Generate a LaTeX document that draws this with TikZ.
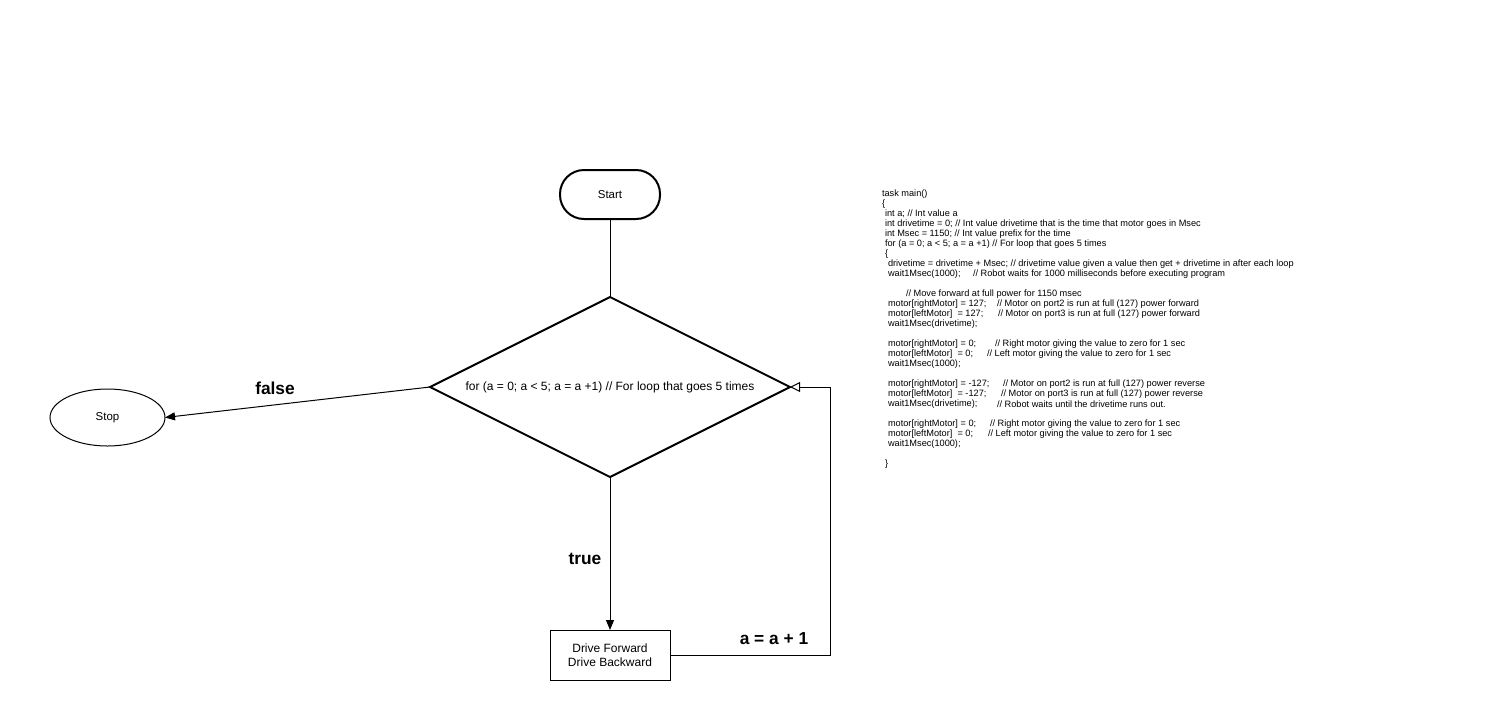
\documentclass[tikz,border=0pt]{standalone}
\usepackage{fontspec}
\setmainfont{Liberation Sans}
\usetikzlibrary{shapes.geometric,arrows.meta}
\begin{document}
\begin{tikzpicture}[x=0.75pt,y=-0.75pt,
  every node/.style={inner sep=0pt,outer sep=0pt},
  code/.style={anchor=west,font=\fontsize{6.9pt}{7.5pt}\selectfont},
  lbl/.style={font=\fontsize{13pt}{15pt}\selectfont\bfseries},
  conn/.style={draw=black,line width=0.75pt},
  filledtip/.style={-{Triangle[length=7.5pt,width=6pt]}},
  opentip/.style={-{Triangle[open,length=7.5pt,width=7.5pt]}}]
\useasboundingbox (0,0) rectangle (1508,700);
% nodes
\node[draw,line width=1.5pt,rounded corners=18pt,minimum width=75pt,minimum height=36.75pt,
  font=\fontsize{8.6pt}{10pt}\selectfont] (start) at (610,194.5) {Start};
\node[diamond,aspect=2,draw,line width=1.5pt,minimum width=270pt,minimum height=135pt,
  font=\fontsize{9pt}{11pt}\selectfont] (loop) at (610,387) {for (a = 0; a < 5; a = a +1) // For loop that goes 5 times};
\node[ellipse,draw,line width=0.75pt,minimum width=86.25pt,minimum height=42.75pt,
  font=\fontsize{8.6pt}{10pt}\selectfont] (stop) at (107.5,417.5) {Stop};
\node[draw,line width=0.75pt,minimum width=90pt,minimum height=37.5pt,align=center,
  font=\fontsize{9pt}{10.5pt}\selectfont] (drive) at (610,655) {Drive Forward\\Drive Backward};
\coordinate (corner) at (830,387);
% connectors
\draw[conn] (start.south) -- (loop.north);
\draw[conn,filledtip] (loop.west) -- (stop.east);
\draw[conn,filledtip] (loop.south) -- (drive.north);
\draw[conn,opentip] (drive.east) -| (corner) -- (loop.east);
% labels
\node[lbl] (lfalse) at (275,388) {false};
\node[lbl] (ltrue) at (585,559) {true};
\node[lbl] (linc) at (774,639) {a = a + 1};
% code
\begin{scope}[yshift=-1.5pt]
\node[code] (c01) at (882,192) {task main()};
\node[code] (c02) at (882,202) {\{};
\node[code] (c03) at (885,212) {int a; // Int value a};
\node[code] (c04) at (885,222) {int drivetime = 0; // Int value drivetime that is the time that motor goes in Msec};
\node[code] (c05) at (885,232) {int Msec = 1150; // Int value prefix for the time};
\node[code] (c06) at (885,242) {for (a = 0; a < 5; a = a +1) // For loop that goes 5 times};
\node[code] (c07) at (885,252) {\{};
\node[code] (c08) at (888,262) {drivetime = drivetime + Msec; // drivetime value given a value then get + drivetime in after each loop};
\node[code] (c09) at (888,272) {wait1Msec(1000);};
\node[code] (k09) at (973,272) {// Robot waits for 1000 milliseconds before executing program};
\node[code] (c11) at (906,292) {// Move forward at full power for 1150 msec};
\node[code] (c12) at (888,302) {motor[rightMotor] = 127;};
\node[code] (k12) at (997,302) {// Motor on port2 is run at full (127) power forward};
\node[code] (c13) at (888,312) {motor[leftMotor]\ \ = 127;};
\node[code] (k13) at (998,312) {// Motor on port3 is run at full (127) power forward};
\node[code] (c14) at (888,322) {wait1Msec(drivetime);};
\node[code] (c16) at (888,342) {motor[rightMotor] = 0;};
\node[code] (k16) at (995,342) {// Right motor giving the value to zero for 1 sec};
\node[code] (c17) at (888,352) {motor[leftMotor]\ \ = 0;};
\node[code] (k17) at (987,352) {// Left motor giving the value to zero for 1 sec};
\node[code] (c18) at (888,362) {wait1Msec(1000);};
\node[code] (c20) at (888,382) {motor[rightMotor] = -127;};
\node[code] (k20) at (1003,382) {// Motor on port2 is run at full (127) power reverse};
\node[code] (c21) at (888,392) {motor[leftMotor]\ \ = -127;};
\node[code] (k21) at (1001,392) {// Motor on port3 is run at full (127) power reverse};
\node[code] (c22) at (888,402) {wait1Msec(drivetime);};
\node[code] (k22) at (997,402) {// Robot waits until the drivetime runs out.};
\node[code] (c24) at (888,422) {motor[rightMotor] = 0;};
\node[code] (k24) at (990,422) {// Right motor giving the value to zero for 1 sec};
\node[code] (c25) at (888,432) {motor[leftMotor]\ \ = 0;};
\node[code] (k25) at (988,432) {// Left motor giving the value to zero for 1 sec};
\node[code] (c26) at (888,442) {wait1Msec(1000);};
\node[code] (c28) at (885,462) {\}};
\end{scope}
\end{tikzpicture}
\end{document}
